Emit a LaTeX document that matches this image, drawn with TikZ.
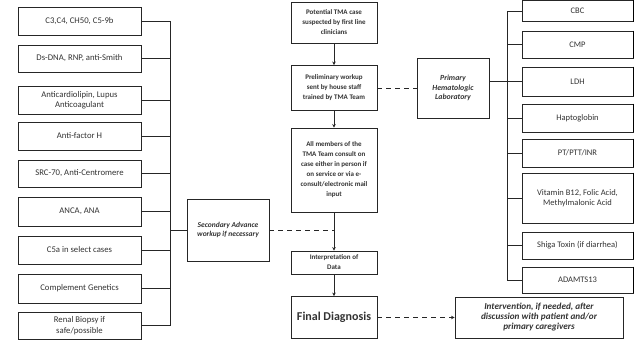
\documentclass[tikz,border=0pt]{standalone}
\usepackage{fontspec}
\setmainfont{Carlito}
\usetikzlibrary{arrows.meta}

\begin{document}
\begin{tikzpicture}[x=1pt,y=-1pt,
  >={Stealth[length=3.5pt,width=3.5pt]},
  box/.style={draw=black!85,line width=0.9pt,fill=white,align=center,inner sep=2pt,text=black!80},
  lbox/.style={box,minimum width=123pt,minimum height=#1,font=\fontsize{8.7}{10.5}\selectfont},
  rbox/.style={box,minimum width=111pt,minimum height=#1,font=\fontsize{8.5}{10.5}\selectfont},
  cbox/.style={box,minimum width=86pt,minimum height=#1,font=\fontsize{7}{10}\selectfont\bfseries},
  note/.style={box,font=\fontsize{7.5}{9.5}\selectfont\bfseries\itshape},
  link/.style={draw=black!85,line width=0.9pt},
  dashlink/.style={link,dash pattern=on 5pt off 4pt},
  ]
  \useasboundingbox (0,0) rectangle (640,340);

  % ---- secondary (advanced) workup, left column ----
  \node[lbox=28pt] (comp)   at (79.5,21)    {C3,C4, CH50, C5-9b};
  \node[lbox=27pt] (dsdna)  at (79.5,58.5)  {Ds-DNA, RNP, anti-Smith};
  \node[lbox=28pt] (acl)    at (79.5,100)   {Anticardiolipin, Lupus\\Anticoagulant};
  \node[lbox=28pt] (afh)    at (79.5,136)   {Anti-factor H};
  \node[lbox=27pt] (scl)    at (79.5,173.5) {SRC-70, Anti-Centromere};
  \node[lbox=29pt] (anca)   at (79.5,211.5) {ANCA, ANA};
  \node[lbox=28pt] (cfa)    at (79.5,250)   {C5a in select cases};
  \node[lbox=29pt] (gen)    at (79.5,288.5) {Complement Genetics};
  \node[lbox=27pt] (biopsy) at (79.5,325.5) {Renal Biopsy if\\safe/possible};

  \node[note,minimum width=82pt,minimum height=62pt] (adv) at (228,230)
       {Secondary Advance\\workup if necessary};

  \coordinate (lbus top) at (170,21);
  \coordinate (lbus bot) at (170,325.5);
  \draw[link] (lbus top) -- (lbus bot);
  \foreach \b in {comp,dsdna,acl,afh,scl,anca,cfa,gen,biopsy}
    \draw[link] (\b.east) -- (\b.east -| lbus top);
  \draw[link] (adv.west) -- (adv.west -| lbus top);

  % ---- main pathway ----
  \node[cbox=41pt] (suspect) at (334,22.5) {Potential TMA case\\suspected by first line\\clinicians};
  \node[cbox=45pt] (prelim)  at (334,88)   {Preliminary workup\\sent by house staff\\trained by TMA Team};
  \node[cbox=84pt] (consult) at (334,170)
       {All members of the\\TMA Team consult on\\case either in person if\\on service or via e-\\consult/electronic mail\\input};
  \node[cbox=23pt] (interp)  at (334,262.5) {Interpretation of\\Data};
  \node[cbox=42pt,font=\fontsize{12}{14}\selectfont\bfseries] (final) at (334,317.5) {Final Diagnosis};

  \draw[link,->] (suspect) -- (prelim);
  \draw[link,->] (prelim) -- (consult);
  \draw[link,->] (consult) -- (interp);
  \draw[link,->] (interp) -- (final);
  \draw[dashlink] (adv.east) -- (adv.east -| consult.south);

  \node[note,minimum width=168pt,minimum height=41pt,font=\fontsize{9.2}{10}\selectfont\bfseries\itshape]
       (interv) at (539,317.5) {Intervention, if needed, after\\discussion with patient and/or\\primary caregivers};
  \draw[dashlink,->] (final) -- (interv);

  % ---- primary hematologic laboratory, right column ----
  \node[note,minimum width=72pt,minimum height=60pt,font=\fontsize{7.8}{9.5}\selectfont\bfseries\itshape]
       (lab) at (453,88) {Primary\\Hematologic\\Laboratory};
  \draw[dashlink] (prelim) -- (lab);

  \node[rbox=21pt] (cbc)    at (577.5,11)    {CBC};
  \node[rbox=27pt] (cmp)    at (577.5,44.5)  {CMP};
  \node[rbox=29pt] (ldh)    at (577.5,81.5)  {LDH};
  \node[rbox=28pt] (hapto)  at (577.5,118)   {Haptoglobin};
  \node[rbox=28pt] (coag)   at (577.5,153)   {PT/PTT/INR};
  \node[rbox=50pt] (vit)    at (577.5,198)   {Vitamin B12, Folic Acid,\\Methylmalonic Acid};
  \node[rbox=27pt] (shiga)  at (577.5,245.5) {Shiga Toxin (if diarrhea)};
  \node[rbox=26pt] (adamts) at (577.5,280)   {ADAMTS13};

  \coordinate (rbus top) at (507,11);
  \coordinate (rbus bot) at (507,280);
  \draw[link] (rbus top) -- (rbus bot);
  \foreach \b in {cbc,cmp,ldh,hapto,coag,vit,shiga,adamts}{
    \draw[link] (\b.west) -- (\b.west -| rbus top);
    \draw[line width=1.8pt] (\b.north east) -- (\b.south east);
  }
  \draw[link] (lab.east |- ldh) -- (ldh.west);
\end{tikzpicture}
\end{document}
